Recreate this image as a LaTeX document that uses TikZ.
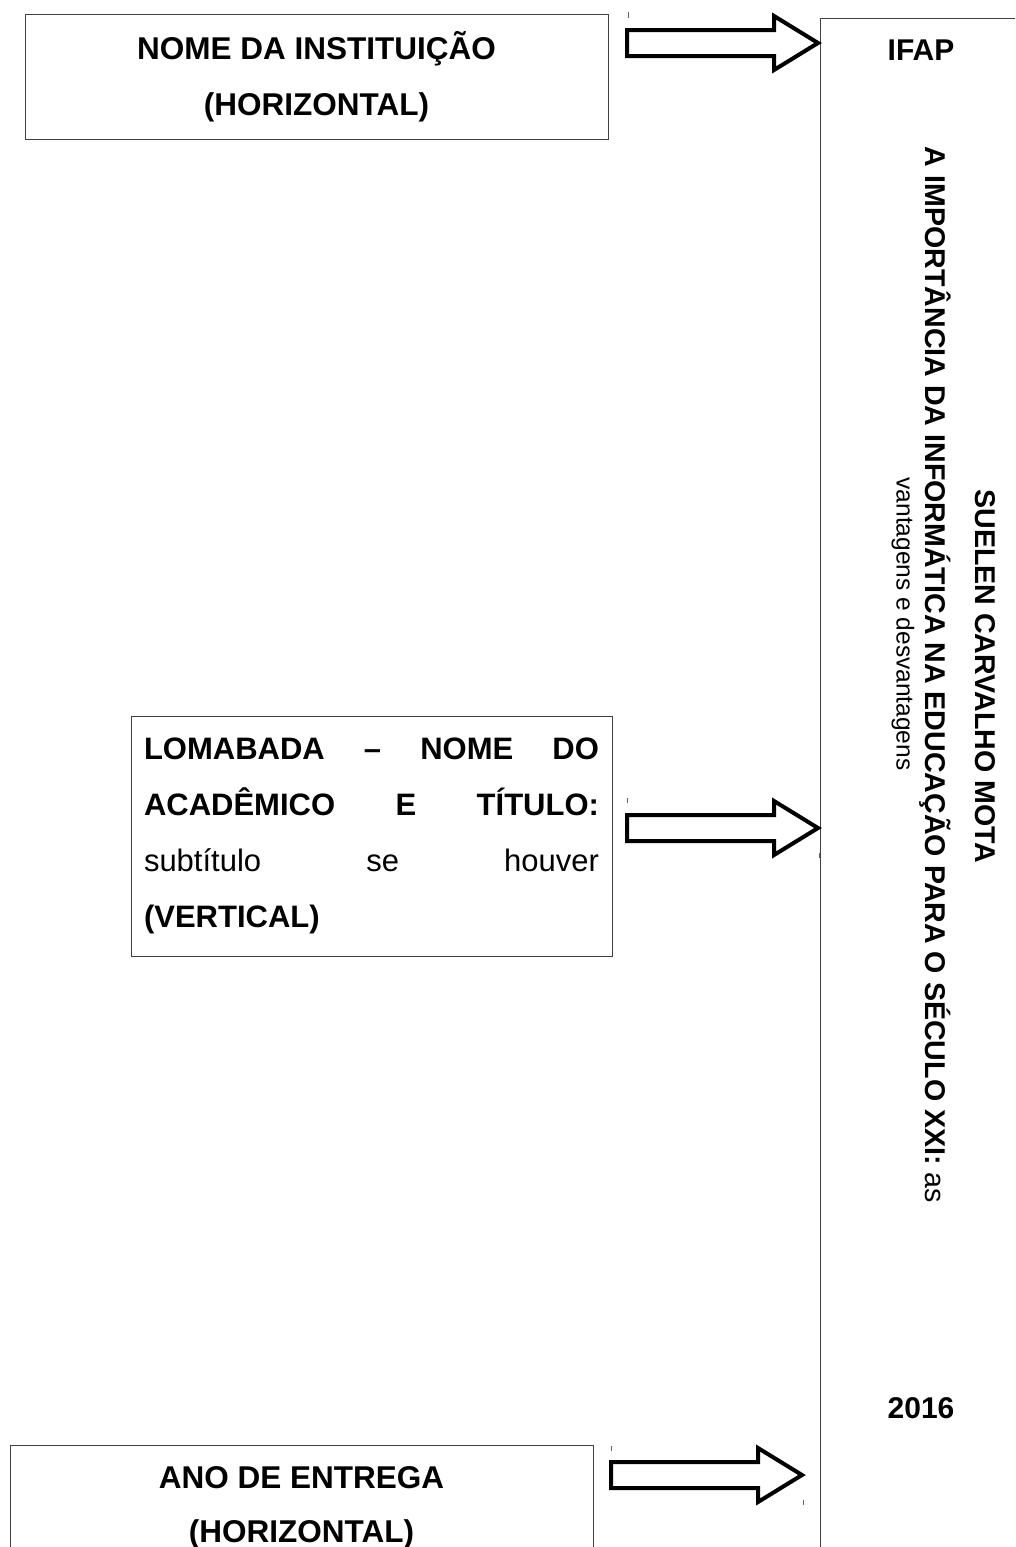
\documentclass[tikz,border=0pt]{standalone}
\usepackage{fontspec}
\setmainfont{Liberation Sans}

\tikzstyle{caixa} = [rectangle, draw=black!75, line width=1pt, align=center, font=\bfseries\fontsize{31.5}{56}\selectfont]
\tikzstyle{seta} = [draw=black, line width=4pt, fill=white, line join=miter]
\tikzstyle{lombo} = [rotate=-90, inner sep=0pt, font=\fontsize{28.6}{34}\selectfont]
\tikzstyle{marca} = [draw=black!60, line width=0.8pt]

\begin{document}
\begin{tikzpicture}[x=1pt, y=-1pt]
\useasboundingbox (0,0) rectangle (1015,1547);
\clip (0,0) rectangle (1015,1547);

\node (inst) [caixa, minimum width=583pt, minimum height=125pt] at (316.5,77) {NOME DA INSTITUIÇÃO\\(HORIZONTAL)};
\node (lomb) [caixa, minimum width=481pt, minimum height=240pt, text width=455pt, align=justify, font=\fontsize{31}{56}\selectfont] at (371.5,836) {\textbf{LOMABADA – NOME DO}\linebreak\textbf{ACADÊMICO E TÍTULO:}\linebreak subtítulo se houver\linebreak\textbf{(VERTICAL)}};
\node (entrega) [caixa, minimum width=583pt, minimum height=125pt, font=\bfseries\fontsize{31.5}{54}\selectfont] at (301.5,1508) {ANO DE ENTREGA\\(HORIZONTAL)};

\draw [draw=black!75, line width=1pt] (820,18) rectangle (1100,1600);
\node (ifap) [font=\bfseries\fontsize{30}{36}\selectfont] at (921,50) {IFAP};
\node (ano) [font=\bfseries\fontsize{30}{36}\selectfont] at (921,1408) {2016};
\node (autor) [lombo, font=\bfseries\fontsize{28.6}{34}\selectfont] at (985,676) {SUELEN CARVALHO MOTA};
\node (titulo) [lombo] at (935,675) {\textbf{A IMPORTÂNCIA DA INFORMÁTICA NA EDUCAÇÃO PARA O SÉCULO XXI:} as};
\node (subtit) [lombo, font=\fontsize{24.5}{30}\selectfont] at (903,624) {vantagens e desvantagens};

\draw [seta, shift={(627,43)}] (0,-13) -- (147,-13) -- (147,-27) -- (191,0) -- (147,27) -- (147,13) -- (0,13) -- cycle;
\draw [seta, shift={(627,828)}] (0,-13) -- (147,-13) -- (147,-27) -- (191,0) -- (147,27) -- (147,13) -- (0,13) -- cycle;
\draw [seta, shift={(611,1475)}] (0,-13) -- (147,-13) -- (147,-27) -- (191,0) -- (147,27) -- (147,13) -- (0,13) -- cycle;

\draw [marca] (628,12) -- (628,18);
\draw [marca] (627,798) -- (627,803);
\draw [marca] (819,853) -- (819,858);
\draw [marca] (611,1446) -- (611,1451);
\draw [marca] (803,1500) -- (803,1505);
\end{tikzpicture}
\end{document}
